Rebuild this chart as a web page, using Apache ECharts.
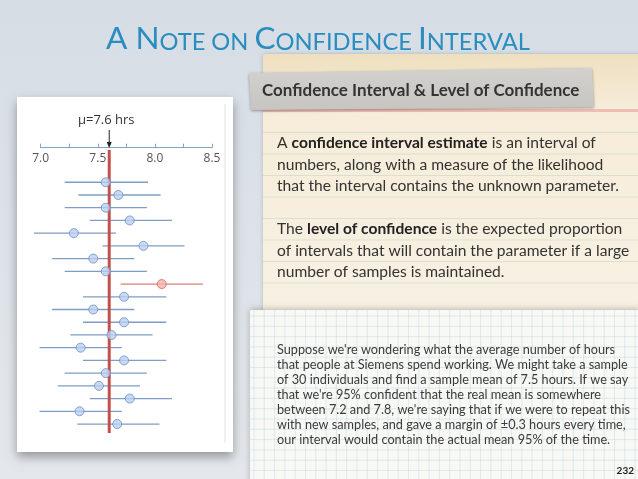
<!DOCTYPE html>
<html>
<head>
<meta charset="utf-8">
<script src="https://cdn.jsdelivr.net/npm/echarts@6/dist/echarts.min.js"></script>
<style>
html,body{margin:0;padding:0;background:#dde3e9;}
#main{width:638px;height:479px;}
</style>
</head>
<body>
<div id="main"></div>
<script>
// ---- data ----
const MU = 7.6;
const rows = ['1','2','3','4','5','6','7','8','9','10','11','12','13','14','15','16','17','18','19','20'];
const means = [7.57,7.68,7.57,7.78,7.29,7.90,7.46,7.57,8.06,7.73,7.46,7.73,7.62,7.35,7.73,7.57,7.51,7.78,7.34,7.67];
const lows  = [7.21,7.33,7.21,7.43,6.94,7.54,7.10,7.21,7.70,7.37,7.10,7.37,7.26,6.99,7.37,7.21,7.15,7.43,6.99,7.32];
const highs = [7.94,8.05,7.93,8.15,7.66,8.26,7.82,7.93,8.42,8.10,7.82,8.10,7.98,7.71,8.10,7.93,7.87,8.15,7.71,8.04];
const tickLabels = ['7.0','7.5','8.0','8.5'];
const muLabel = 'μ=7.6 hrs';

const titleText = '{b|A N}{s|OTE ON }{b|C}{s|ONFIDENCE }{b|I}{s|NTERVAL}';
const tapeText = 'Confidence Interval & Level of Confidence';
const para1 = 'A {b|confidence interval estimate} is an interval of\nnumbers, along with a measure of the likelihood\nthat the interval contains the unknown parameter.\n\nThe {b|level of confidence} is the expected proportion\nof intervals that will contain the parameter if a large\nnumber of samples is maintained.';
const para2 = "Suppose we're wondering what the average number of hours\nthat people at Siemens spend working. We might take a sample\nof 30 individuals and find a sample mean of 7.5 hours. If we say\nthat we're 95% confident that the real mean is somewhere\nbetween 7.2 and 7.8, we're saying that if we were to repeat this\nwith new samples, and gave a margin of \u00b10.3 hours every time,\nour interval would contain the actual mean 95% of the time.";
const pageNo = '232';

// ---- build ----
const chart = echarts.init(document.getElementById('main'), null, {renderer:'canvas'});

const intervalData = rows.map((r, i) => [i, lows[i], highs[i], means[i]]);
const missed = i => lows[i] > MU || highs[i] < MU;
const dotData = rows.map((r, i) => ({
  value: [means[i], i],
  itemStyle: missed(i)
    ? {color:'#f4b3ae', borderColor:'#d4675f', borderWidth:1}
    : {color:'#bcd0f0', borderColor:'#6b8fc6', borderWidth:1}
}));

function bgGraphics() {
  const g = [];
  // slide background
  g.push({type:'rect', z:0, shape:{x:0,y:0,width:638,height:479},
    style:{fill:new echarts.graphic.LinearGradient(0,0,0,1,[{offset:0,color:'#d6dde5'},{offset:1,color:'#e4e8ec'}])}});
  // upper note paper
  g.push({type:'rect', z:1, shape:{x:263,y:54,width:380,height:270},
    style:{fill:new echarts.graphic.LinearGradient(0,0,0,1,[{offset:0,color:'#eedfbf'},{offset:0.2,color:'#f6ecd8'},{offset:1,color:'#f8f1e4'}]),
      shadowBlur:4, shadowColor:'rgba(0,0,0,0.2)'}});
  for (let k = 0; k < 8; k++) {
    const y = 132.5 + k * 21.5;
    g.push({type:'line', z:1, shape:{x1:263,y1:y,x2:638,y2:y}, style:{stroke:'rgba(140,200,185,0.3)', lineWidth:1}});
  }
  g.push({type:'rect', z:1, shape:{x:263,y:109,width:380,height:3}, style:{fill:'rgba(236,170,165,0.7)'}});
  // tape label
  g.push({type:'polygon', z:2, shape:{points:[[249,73],[592,68],[594,107],[251,110]]},
    style:{fill:new echarts.graphic.LinearGradient(0,0,0,1,[{offset:0,color:'#d3d1cd'},{offset:1,color:'#c7c5c1'}]),
      shadowBlur:3, shadowOffsetY:1, shadowColor:'rgba(0,0,0,0.35)'}});
  // lower graph paper
  g.push({type:'rect', z:3, shape:{x:250,y:310,width:390,height:175},
    style:{fill:'#f8f8f4', shadowBlur:6, shadowOffsetY:-1, shadowColor:'rgba(0,0,0,0.25)'}});
  for (let x = 254; x < 638; x += 10.3) {
    g.push({type:'line', z:3, shape:{x1:x,y1:310,x2:x,y2:479}, style:{stroke:'rgba(150,195,220,0.27)', lineWidth:1}});
  }
  for (let y = 316; y < 479; y += 10.3) {
    g.push({type:'line', z:3, shape:{x1:250,y1:y,x2:638,y2:y}, style:{stroke:'rgba(150,195,220,0.27)', lineWidth:1}});
  }
  // left white panel
  g.push({type:'rect', z:3, shape:{x:17,y:97,width:216,height:355},
    style:{fill:'#ffffff', shadowBlur:10, shadowOffsetY:5, shadowColor:'rgba(0,0,0,0.35)'}});
  g.push({type:'line', z:3, shape:{x1:225,y1:104,x2:225,y2:443}, style:{stroke:'#e2e2e2', lineWidth:1}});
  // texts
  g.push({type:'text', z:10, x:106, y:21, style:{text:titleText, fill:'#2a8dc0',
    rich:{b:{fontFamily:'Lato', fontSize:31.5, fill:'#2a8dc0', verticalAlign:'bottom', lineHeight:34},
          s:{fontFamily:'Lato', fontSize:23.7, fill:'#2a8dc0', verticalAlign:'bottom', lineHeight:34, padding:[0,0,0.5,0]}}}});
  g.push({type:'text', z:10, x:262, y:91, style:{text:tapeText, fontFamily:'Lato', fontWeight:'bold', fontSize:17, fill:'#333333', verticalAlign:'middle'}});
  g.push({type:'text', z:10, x:277, y:132.5, style:{text:para1, fontFamily:'Lato', fontSize:15.6, lineHeight:21.5, fill:'#333333', verticalAlign:'top',
    rich:{b:{fontFamily:'Lato', fontWeight:'bold', fontSize:15.6, lineHeight:21.5, fill:'#222222'}}}});
  g.push({type:'text', z:10, x:277, y:342.5, style:{text:para2, fontFamily:'Lato', fontSize:12.7, lineHeight:15, fill:'#3a3a3a', verticalAlign:'top'}});
  g.push({type:'text', z:10, x:634, y:471, style:{text:pageNo, fontFamily:'Lato', fontWeight:'bold', fontSize:10, fill:'#222', align:'right', verticalAlign:'middle'}});
  return g;
}

const option = {
  animation:false,
  grid:[
    {left:40.7, right:426, top:175.9, bottom:48.6},
    {left:40.7, right:426, top:150, bottom:46}
  ],
  xAxis:[
    {type:'value', gridIndex:0, position:'top', offset:28.2, min:7, max:8.5, interval:0.25, z:6,
     axisLine:{show:true, lineStyle:{color:'#86a4c6', width:1}},
     axisTick:{show:true, length:4, lineStyle:{color:'#86a4c6'}},
     axisLabel:{inside:true, margin:5, color:'#555', fontFamily:'Open Sans', fontSize:12,
       formatter: v => { const i = tickLabels.indexOf(v.toFixed(1)); return (Math.abs(v*2 - Math.round(v*2)) < 1e-6 && i >= 0) ? tickLabels[i] : ''; }},
     splitLine:{show:false}},
    {type:'value', gridIndex:1, min:7, max:8.5, show:false}
  ],
  yAxis:[
    {type:'category', gridIndex:0, data:rows, inverse:true, show:false},
    {type:'value', gridIndex:1, min:0, max:1, inverse:true, show:false}
  ],
  series:[
    {type:'line', xAxisIndex:1, yAxisIndex:1, z:7, data:[[MU,0],[MU,1]], symbol:'none',
     lineStyle:{color:'#c2504b', width:3}},
    {type:'custom', xAxisIndex:0, yAxisIndex:0, z:6, clip:false, data:intervalData,
     encode:{x:[1,2], y:0},
     renderItem:(params, api) => {
       const idx = api.value(0);
       const p1 = api.coord([api.value(1), idx]);
       const p2 = api.coord([api.value(2), idx]);
       return {type:'line', shape:{x1:p1[0], y1:p1[1], x2:p2[0], y2:p2[1]},
         style:{stroke: missed(idx) ? '#dc7e78' : '#7f9dc6', lineWidth:1.3}};
     }},
    {type:'scatter', xAxisIndex:0, yAxisIndex:0, z:8, symbolSize:9, data:dotData}
  ],
  graphic: bgGraphics()
};
chart.setOption(option);

// mu annotation positioned from the axis scale
const xMu = chart.convertToPixel({xAxisIndex:0}, MU);
const g = bgGraphics();
g.push({type:'text', z:10, x:xMu - 3, y:120, style:{text:muLabel, fontFamily:'Open Sans', fontSize:13, fill:'#333', align:'center', verticalAlign:'middle'}});
g.push({type:'line', z:10, shape:{x1:xMu, y1:130, x2:xMu, y2:144}, style:{stroke:'#222', lineWidth:1}});
g.push({type:'polygon', z:10, shape:{points:[[xMu-2.5,142],[xMu+2.5,142],[xMu,148]]}, style:{fill:'#222'}});
chart.setOption({graphic: g}, {replaceMerge:['graphic']});
</script>
</body>
</html>
